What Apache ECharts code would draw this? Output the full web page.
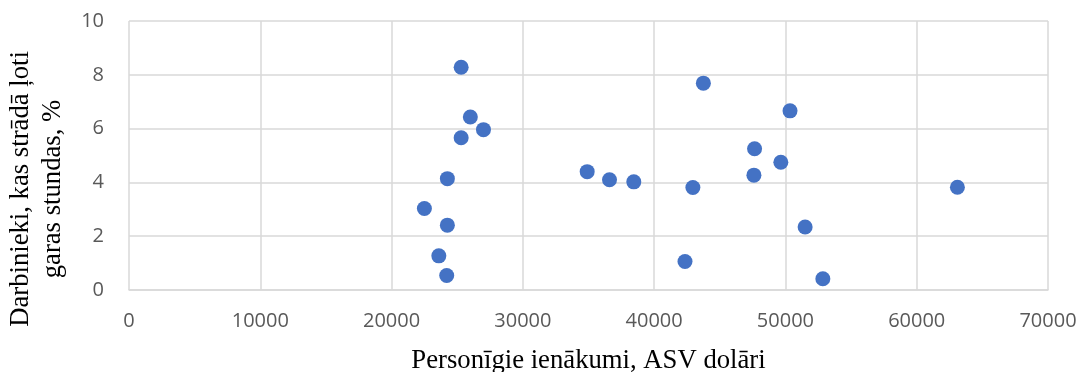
<!DOCTYPE html>
<html>
<head>
<meta charset="utf-8">
<script src="https://cdn.jsdelivr.net/npm/echarts@6/dist/echarts.min.js"></script>
<style>
  html, body { margin: 0; padding: 0; background: #fff; }
  #chart { width: 1079px; height: 372px; }
</style>
</head>
<body>
<div id="chart"></div>
<script>
// Personal income (USD)
const income = [25300, 26000, 27000, 25300, 24250, 22500, 24250, 23600, 24200,
                43750, 50350, 47650, 49650, 47600, 34900, 36600, 38450, 42950, 63100, 51500, 42350, 52850];
// Employees working very long hours, %
const longHours = [8.28, 6.43, 5.96, 5.66, 4.14, 3.03, 2.41, 1.27, 0.54,
                   7.69, 6.66, 5.25, 4.75, 4.27, 4.40, 4.10, 4.02, 3.81, 3.82, 2.34, 1.06, 0.42];
const xTitle = 'Personīgie ienākumi, ASV dolāri';
const yTitle = 'Darbinieki, kas strādā ļoti\ngaras stundas, %';

const points = income.map((v, i) => [v, longHours[i]]);

const chart = echarts.init(document.getElementById('chart'), null, { renderer: 'canvas' });
const gridColor = '#D9D9D9';
chart.setOption({
  animation: false,
  backgroundColor: '#ffffff',
  grid: { left: 129, right: 31, top: 21, bottom: 82, containLabel: false, outerBoundsMode: 'none' },
  xAxis: {
    type: 'value', min: 0, max: 70000, interval: 10000,
    axisLine: { show: true, lineStyle: { color: gridColor, width: 1.5 } },
    axisTick: { show: false },
    splitLine: { show: true, lineStyle: { color: gridColor, width: 1.5 } },
    axisLabel: { color: '#595959', fontFamily: '"Open Sans"', fontSize: 20, margin: 21,
                 formatter: v => String(v) },
    name: xTitle, nameLocation: 'middle', nameGap: 57,
    nameTextStyle: { color: '#000', fontFamily: '"Liberation Serif"', fontSize: 26.7 }
  },
  yAxis: {
    type: 'value', min: 0, max: 10, interval: 2,
    axisLine: { show: false },
    axisTick: { show: false },
    splitLine: { show: true, lineStyle: { color: gridColor, width: 1.5 } },
    axisLabel: { color: '#595959', fontFamily: '"Open Sans"', fontSize: 20, margin: 25 }
  },
  graphic: [{
    type: 'text',
    x: 37, y: 189,
    rotation: Math.PI / 2,
    style: {
      text: yTitle,
      fill: '#000',
      font: '26.7px "Liberation Serif"',
      lineHeight: 32,
      align: 'center',
      verticalAlign: 'middle'
    }
  }],
  series: [{
    type: 'scatter',
    data: points,
    symbol: 'circle',
    symbolSize: 15,
    itemStyle: { color: '#4472C4', opacity: 1 }
  }]
});
</script>
</body>
</html>
